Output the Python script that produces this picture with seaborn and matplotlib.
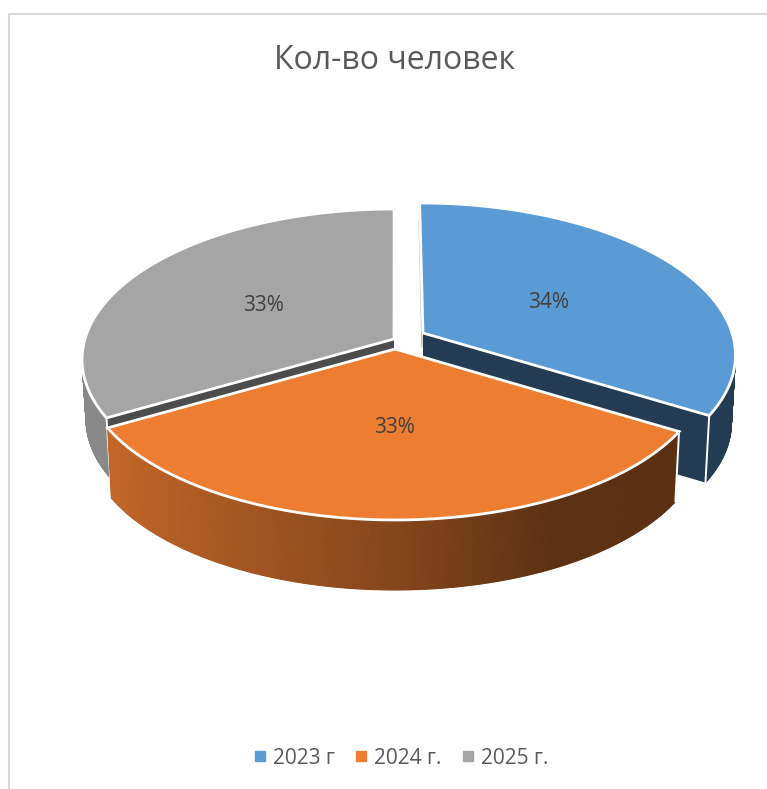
import numpy as np
import matplotlib
matplotlib.use("Agg")
import matplotlib.pyplot as plt
import seaborn as sns
from matplotlib.lines import Line2D

# Chart values
years = ["2023 г", "2024 г.", "2025 г."]
shares = [33.7, 33.0, 33.3]
pie_colors = sns.color_palette(["#5b9bd5", "#ed7d31", "#a5a5a5"])

# Pie geometry, in pixels
apexes = [(423, 333), (395, 349), (394, 339)]
depths = [67, 70, 60]
label_radius = [0.48, 0.48, 0.51]
RX, RY = 309, 147.7
TILT = 0.136
VANISH_X = 395

sns.set_theme(style="white")
plt.rcParams["font.family"] = ["Open Sans", "DejaVu Sans"]


# Perspective projection of a point on the pie circle
def project(apex, t, r=1.0):
    u = r * np.sin(t)
    v = -r * np.cos(t)
    w = 1 - TILT * v
    x = VANISH_X + (apex[0] - VANISH_X + RX * u) / w
    y = apex[1] + RY * v / w
    return x, y


def shade(color, t):
    f = np.interp(np.sin(t), [-0.9, 0, 0.45, 1], [0.83, 0.56, 0.39, 0.39])
    return tuple(c * f for c in color)


def draw_slice(ax, apex, depth, t0, t1, color, cut_shade, cut_at):
    ts = np.linspace(t0, t1, 360)
    xs, ys = project(apex, ts)
    xb = apex[0] + (xs - apex[0]) * 0.987
    yb = ys + depth

    # cut face, drawn from the apex to the rim
    ex, ey = project(apex, cut_at)
    ebx = apex[0] + (ex - apex[0]) * 0.987
    ax.fill([apex[0], ex, ebx, apex[0]], [apex[1], ey, ey + depth, apex[1] + depth],
            color=tuple(c * cut_shade for c in color), lw=0, zorder=1)

    # outer wall as thin strips, only the part facing the viewer
    for i in range(len(ts) - 1):
        if -np.cos(ts[i]) < 0:
            continue
        ax.fill([xs[i], xs[i + 1], xb[i + 1], xb[i]], [ys[i], ys[i + 1], yb[i + 1], yb[i]],
                facecolor=shade(color, ts[i]), edgecolor=shade(color, ts[i]), lw=0.8, zorder=1)

    # white corner lines
    ax.plot([ex, ebx], [ey, ey + depth], color="white", lw=1.4, zorder=1)

    # top face
    ax.fill(np.r_[apex[0], xs], np.r_[apex[1], ys], facecolor=color,
            edgecolor="white", lw=2, joinstyle="miter", zorder=1)


fig = plt.figure(figsize=(7.67, 7.89), dpi=100)
ax = fig.add_axes([0, 0, 1, 1])
ax.set_xlim(0, 767)
ax.set_ylim(789, 0)
ax.axis("off")

edges = np.r_[0, np.cumsum(shares)] / np.sum(shares) * 2 * np.pi

# back to front: grey, blue, orange
draw_slice(ax, apexes[2], depths[2], edges[2], edges[3], pie_colors[2], 0.46, edges[2])

# thin sliver of the blue slice's inner face
sx, sy = project(apexes[0], edges[0], 0.85)
ax.plot([sx - 1, apexes[0][0] - 1], [sy, apexes[0][1] + 14], color="#b5b5b5", lw=0.9, zorder=1)

draw_slice(ax, apexes[0], depths[0], edges[0], edges[1], pie_colors[0], 0.39, edges[1])
draw_slice(ax, apexes[1], depths[1], edges[1], edges[2], pie_colors[1], 0.39, edges[1])

for i, share in enumerate(shares):
    mid = (edges[i] + edges[i + 1]) / 2
    lx, ly = project(apexes[i], mid, label_radius[i])
    ax.text(lx + 1, ly + 3, f"{share:.0f}%", ha="center", va="center", fontsize=15, color="#404040")

# Chart frame, only the top and left lines are in the picture
ax.plot([9, 9, 767], [789, 14, 14], color="#d9d9d9", lw=1.5, solid_joinstyle="miter")

ax.text(395, 60, "Кол-во человек", ha="center", va="center", fontsize=23, color="#595959")

handles = [Line2D([], [], ls="", marker="s", ms=6.5, color=c) for c in pie_colors]
leg = ax.legend(handles, years, ncol=3, frameon=False, loc="center",
                bbox_to_anchor=(400 / 767, 1 - 758 / 789),
                prop={"family": "Open Sans", "size": 15},
                handlelength=0.8, handletextpad=0.2, columnspacing=0.9, labelcolor="#595959")

fig.savefig("out.png", dpi=100)
